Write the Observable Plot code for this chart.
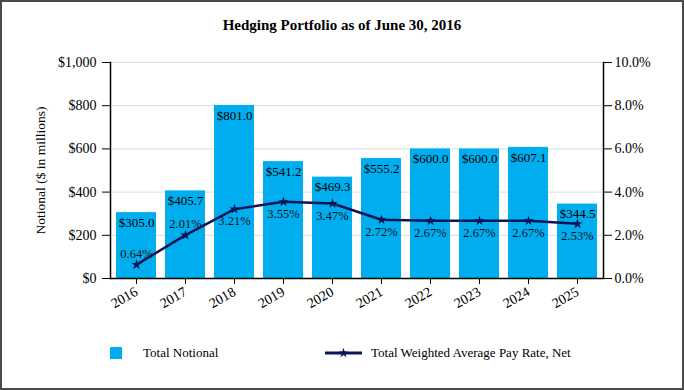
<!DOCTYPE html>
<html>
<head>
<meta charset="utf-8">
<script src="https://cdn.jsdelivr.net/npm/d3@7"></script>
<script src="https://cdn.jsdelivr.net/npm/@observablehq/plot@0.6"></script>
<style>
  html, body { margin: 0; padding: 0; background: #fff; }
  #wrap { position: relative; width: 684px; height: 390px; overflow: hidden; background: #fff;
          font-family: "Liberation Serif", "DejaVu Serif", serif; color: #000; }
  #border { position: absolute; left: 0; top: 0; width: 684px; height: 390px; box-sizing: border-box;
            border: 2px solid #4a4a4a; pointer-events: none; }
  #title { position: absolute; left: 0; top: 15px; width: 684px; text-align: center;
           font-size: 15px; font-weight: bold; line-height: 20px; }
  #chart { position: absolute; left: 0; top: 40px; }
  .leg { position: absolute; font-size: 13px; line-height: 16px; top: 345px; }
  .sw { position: absolute; }
</style>
</head>
<body>
<div id="wrap">
  <div id="title">Hedging Portfolio as of June 30, 2016</div>
  <div id="chart"></div>
  <div class="sw" id="sw1" style="left:110px; top:347px; width:12px; height:12px; background:#00aeef;"></div>
  <div class="leg" style="left:143px;">Total Notional</div>
  <svg class="sw" style="left:322px; top:345px;" width="44" height="16">
    <line x1="3" y1="8" x2="40" y2="8" stroke="#0c1657" stroke-width="3"></line>
    <path transform="translate(21.5,8)" fill="#0c1657" d=""></path>
  </svg>
  <div class="leg" style="left:371px;">Total Weighted Average Pay Rate, Net</div>
  <div id="border"></div>
</div>
<script>
const years = ["2016","2017","2018","2019","2020","2021","2022","2023","2024","2025"];
const notional = [305.0, 405.7, 801.0, 541.2, 469.3, 555.2, 600.0, 600.0, 607.1, 344.5];
const payRate = [0.64, 2.01, 3.21, 3.55, 3.47, 2.72, 2.67, 2.67, 2.67, 2.53];
const leftTicks = [0, 200, 400, 600, 800, 1000];
const rightTicks = [0, 2, 4, 6, 8, 10];

const BLUE = "#00aeef";
const NAVY = "#0c1657";
const FONT = "Liberation Serif, DejaVu Serif, serif";

const data = years.map((y, i) => ({year: y, notional: notional[i], rate: payRate[i], i}));
// the rate axis (0–10%) shares the notional scale (0–1000)
const toY = r => r * 100;

const chart = Plot.plot({
  width: 684,
  height: 290,
  marginTop: 22,
  marginBottom: 52,
  marginLeft: 110,
  marginRight: 81,
  style: {fontFamily: FONT, fontSize: "14px", background: "transparent", color: "#000"},
  x: {type: "band", domain: years, paddingInner: 0.18, paddingOuter: 0.09, label: null},
  y: {domain: [0, 1000], label: null},
  marks: [
    Plot.gridY(leftTicks, {stroke: "#dcdcdc", strokeOpacity: 1, strokeWidth: 1}),
    Plot.barY(data, {x: "year", y: "notional", fill: BLUE}),
    Plot.frame({anchor: "left", stroke: "#000", strokeWidth: 1.5}),
    Plot.frame({anchor: "right", stroke: "#000", strokeWidth: 1.5}),
    Plot.ruleY([0], {stroke: "#000", strokeWidth: 1.5}),
    Plot.axisY({anchor: "left", ticks: leftTicks, tickSize: 8, tickPadding: 6, fontSize: 14,
      tickFormat: d => "$" + d3.format(",")(d), label: null}),
    Plot.axisY({anchor: "right", ticks: rightTicks.map(toY), tickSize: 8, tickPadding: 3, fontSize: 14,
      tickFormat: d => (d / 100).toFixed(1) + "%", label: null}),
    Plot.axisX({tickRotate: -30, tickSize: 6, tickPadding: 6, fontSize: 14, label: null}),
    Plot.text(["Notional ($ in millions)"], {frameAnchor: "left", textAnchor: "middle", dx: -70, rotate: -90, fontSize: 13.5, fill: "#000"}),
    Plot.text(data, {x: "year", y: "notional", text: d => "$" + d.notional.toFixed(1), dy: 10, fontSize: 13, fill: "#000"}),
    Plot.lineY(data, {x: "year", y: d => toY(d.rate), stroke: NAVY, strokeWidth: 2.5}),
    Plot.dot(data, {x: "year", y: d => toY(d.rate), symbol: "star", r: 3.2, fill: NAVY}),
    Plot.text(data.filter(d => d.i < 2), {x: "year", y: d => toY(d.rate), text: d => d.rate.toFixed(2) + "%", dy: -11, fontSize: 12.5, fill: "#111"}),
    Plot.text(data.filter(d => d.i >= 2), {x: "year", y: d => toY(d.rate), text: d => d.rate.toFixed(2) + "%", dy: 12, fontSize: 12.5, fill: "#111"})
  ]
});
document.getElementById("chart").appendChild(chart);
// legend star glyph using d3's symbol
document.querySelector("#wrap svg.sw path").setAttribute("d", d3.symbol(d3.symbolStar, 30)());
</script>
</body>
</html>
